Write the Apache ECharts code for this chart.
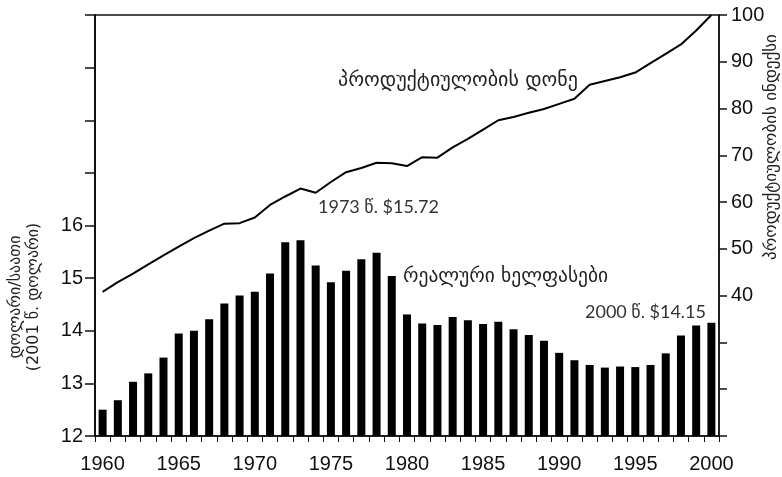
<!DOCTYPE html>
<html>
<head>
<meta charset="utf-8">
<script src="https://cdn.jsdelivr.net/npm/echarts@6/dist/echarts.min.js"></script>
<style>
  html, body { margin: 0; padding: 0; background: #fff; }
  #chart { width: 782px; height: 477px; }
</style>
</head>
<body>
<div id="chart"></div>
<script>
// წლები
const years = [
  '1960', '1961', '1962', '1963', '1964', '1965', '1966', '1967', '1968', '1969',
  '1970', '1971', '1972', '1973', '1974', '1975', '1976', '1977', '1978', '1979',
  '1980', '1981', '1982', '1983', '1984', '1985', '1986', '1987', '1988', '1989',
  '1990', '1991', '1992', '1993', '1994', '1995', '1996', '1997', '1998', '1999',
  '2000'
]

// რეალური ხელფასები, დოლარი/საათი (2001 წ. დოლარი)
const wages = [
  12.50, 12.68, 13.03, 13.19, 13.49, 13.95, 14.00, 14.22, 14.52, 14.67,
  14.74, 15.09, 15.68, 15.72, 15.24, 14.92, 15.14, 15.36, 15.48, 15.04,
  14.31, 14.14, 14.11, 14.26, 14.20, 14.13, 14.17, 14.03, 13.92, 13.81,
  13.58, 13.44, 13.35, 13.30, 13.32, 13.31, 13.35, 13.57, 13.91, 14.10,
  14.15
]

// პროდუქტიულობის ინდექსი
const productivity = [
  40.8, 42.9, 44.7, 46.7, 48.6, 50.5, 52.3, 53.9, 55.4, 55.5,
  56.7, 59.4, 61.2, 62.9, 62.0, 64.3, 66.4, 67.3, 68.4, 68.3,
  67.7, 69.6, 69.5, 71.7, 73.5, 75.5, 77.5, 78.2, 79.1, 79.9,
  81.0, 82.1, 85.1, 85.9, 86.7, 87.7, 89.7, 91.7, 93.7, 96.7,
  100
]

// ღერძის ნიშნულები
const leftLabels = ['12', '13', '14', '15', '16']
const rightLabels = ['40', '50', '60', '70', '80', '90', '100']

const labelFont = 'Liberation Sans'

const chart = echarts.init(document.getElementById('chart'))

chart.setOption({
  animation: false,
  backgroundColor: '#fff',
  grid: {
    left: 95, right: 63, top: 15, bottom: 41,
    show: true, borderColor: '#111', borderWidth: 1.5
  },
  xAxis: {
    type: 'category',
    data: years,
    boundaryGap: true,
    axisLine: { lineStyle: { color: '#111', width: 1.5 } },
    axisTick: { show: true, interval: 0, length: 6, lineStyle: { color: '#111' } },
    axisLabel: {
      interval: 4,
      margin: 18,
      color: '#111',
      fontFamily: labelFont,
      fontSize: 20
    }
  },
  yAxis: [
    {
      type: 'value',
      min: 12, max: 20, interval: 1,
      position: 'left',
      splitLine: { show: false },
      axisLine: { show: true, lineStyle: { color: '#111', width: 2 } },
      axisTick: { show: true, length: 10, lineStyle: { color: '#111', width: 1.5 } },
      axisLabel: {
        margin: 12,
        color: '#111',
        fontFamily: labelFont,
        fontSize: 20,
        formatter: v => leftLabels.includes(String(v)) ? String(v) : ''
      }
    },
    {
      type: 'value',
      min: 10, max: 100, interval: 10,
      position: 'right',
      splitLine: { show: false },
      axisLine: { show: true, lineStyle: { color: '#111', width: 1.5 } },
      axisTick: { show: true, length: 8, lineStyle: { color: '#111', width: 1.5 } },
      axisLabel: {
        margin: 12,
        color: '#111',
        fontFamily: labelFont,
        fontSize: 20,
        formatter: v => rightLabels.includes(String(v)) ? String(v) : ''
      }
    }
  ],
  series: [
    {
      name: 'რეალური ხელფასები',
      type: 'bar',
      yAxisIndex: 0,
      data: wages,
      barWidth: 8,
      itemStyle: { color: '#000' }
    },
    {
      name: 'პროდუქტიულობის დონე',
      type: 'line',
      yAxisIndex: 1,
      data: productivity,
      showSymbol: false,
      lineStyle: { color: '#000', width: 2 }
    }
  ],
  graphic: [
    {
      type: 'text', x: 338, y: 81,
      style: { text: 'პროდუქტიულობის დონე', font: '20px "DejaVu Sans"', fill: '#222', verticalAlign: 'middle' }
    },
    {
      type: 'text', x: 318, y: 207,
      style: { text: '1973 წ. $15.72', font: '18px Lato, "DejaVu Sans"', fill: '#333', verticalAlign: 'middle' }
    },
    {
      type: 'text', x: 403, y: 277,
      style: { text: 'რეალური ხელფასები', font: '19.5px "DejaVu Sans"', fill: '#222', verticalAlign: 'middle' }
    },
    {
      type: 'text', x: 585, y: 312,
      style: { text: '2000 წ. $14.15', font: '18px Lato, "DejaVu Sans"', fill: '#333', verticalAlign: 'middle' }
    },
    {
      type: 'text', x: 25, y: 297, rotation: Math.PI / 2,
      style: {
        text: 'დოლარი/საათი\n(2001 წ. დოლარი)',
        font: '16px "DejaVu Sans"', fill: '#222',
        align: 'center', verticalAlign: 'middle', lineHeight: 18
      }
    },
    {
      type: 'text', x: 772, y: 147, rotation: Math.PI / 2,
      style: {
        text: 'პროდუქტიულობის ინდექსი',
        font: '17px "DejaVu Sans"', fill: '#222',
        align: 'center', verticalAlign: 'middle'
      }
    }
  ]
})
</script>
</body>
</html>
